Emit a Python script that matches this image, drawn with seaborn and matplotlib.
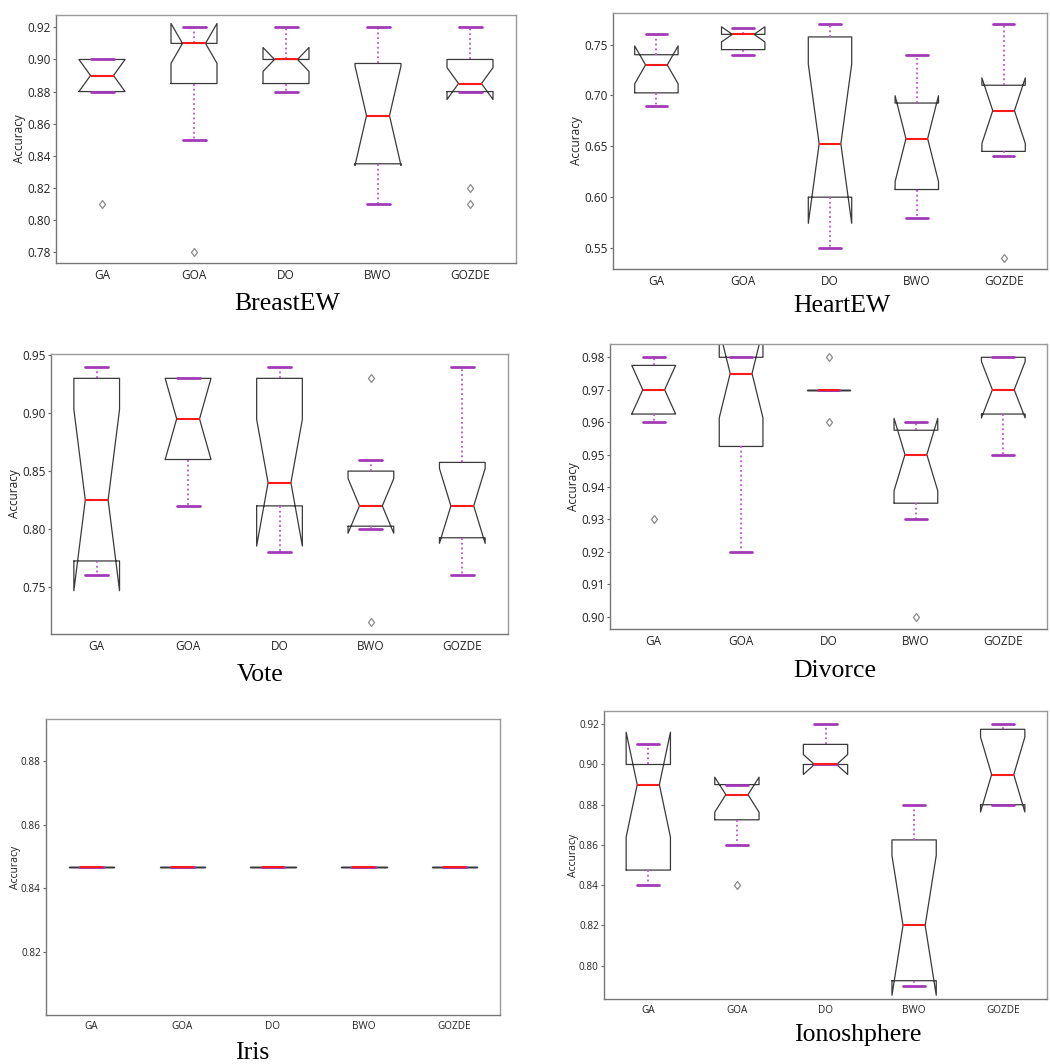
import numpy as np
import pandas as pd
import matplotlib
matplotlib.use("Agg")
import matplotlib.pyplot as plt
from matplotlib.ticker import FormatStrFormatter
import seaborn as sns

# ---------------- data (10 runs per method) ----------------
methods = ["GA", "GOA", "DO", "BWO", "GOZDE"]

breast_ew = {
    "GA":    [0.81, 0.88, 0.88, 0.88, 0.89, 0.89, 0.90, 0.90, 0.90, 0.90],
    "GOA":   [0.78, 0.85, 0.88, 0.90, 0.91, 0.91, 0.91, 0.91, 0.92, 0.92],
    "DO":    [0.88, 0.88, 0.88, 0.90, 0.90, 0.90, 0.90, 0.90, 0.92, 0.92],
    "BWO":   [0.81, 0.82, 0.83, 0.85, 0.86, 0.87, 0.89, 0.90, 0.91, 0.92],
    "GOZDE": [0.81, 0.82, 0.88, 0.88, 0.88, 0.89, 0.90, 0.90, 0.90, 0.92],
}
heart_ew = {
    "GA":    [0.69, 0.70, 0.70, 0.71, 0.73, 0.73, 0.74, 0.74, 0.75, 0.76],
    "GOA":   [0.74, 0.74, 0.74, 0.76, 0.76, 0.76, 0.76, 0.76, 0.76, 0.766],
    "DO":    [0.55, 0.58, 0.60, 0.60, 0.645, 0.66, 0.75, 0.76, 0.77, 0.77],
    "BWO":   [0.58, 0.59, 0.60, 0.63, 0.65, 0.665, 0.67, 0.70, 0.72, 0.74],
    "GOZDE": [0.54, 0.64, 0.64, 0.66, 0.68, 0.69, 0.71, 0.71, 0.74, 0.77],
}
vote = {
    "GA":    [0.76, 0.77, 0.77, 0.78, 0.80, 0.85, 0.93, 0.93, 0.93, 0.94],
    "GOA":   [0.82, 0.84, 0.86, 0.86, 0.88, 0.91, 0.93, 0.93, 0.93, 0.93],
    "DO":    [0.78, 0.80, 0.82, 0.82, 0.84, 0.84, 0.93, 0.93, 0.93, 0.94],
    "BWO":   [0.72, 0.80, 0.80, 0.81, 0.82, 0.82, 0.85, 0.85, 0.86, 0.93],
    "GOZDE": [0.76, 0.78, 0.79, 0.80, 0.82, 0.82, 0.85, 0.86, 0.90, 0.94],
}
divorce = {
    "GA":    [0.93, 0.96, 0.96, 0.97, 0.97, 0.97, 0.97, 0.98, 0.98, 0.98],
    "GOA":   [0.92, 0.94, 0.95, 0.96, 0.97, 0.98, 0.98, 0.98, 0.98, 0.98],
    "DO":    [0.96, 0.97, 0.97, 0.97, 0.97, 0.97, 0.97, 0.97, 0.97, 0.98],
    "BWO":   [0.90, 0.93, 0.93, 0.95, 0.95, 0.95, 0.95, 0.96, 0.96, 0.96],
    "GOZDE": [0.95, 0.96, 0.96, 0.97, 0.97, 0.97, 0.98, 0.98, 0.98, 0.98],
}
iris = {
    "GA":    [0.8467] * 10,
    "GOA":   [0.8467] * 10,
    "DO":    [0.8467] * 10,
    "BWO":   [0.8467] * 10,
    "GOZDE": [0.8467] * 10,
}
ionosphere = {
    "GA":    [0.84, 0.84, 0.84, 0.87, 0.88, 0.90, 0.90, 0.90, 0.90, 0.91],
    "GOA":   [0.84, 0.86, 0.87, 0.88, 0.88, 0.89, 0.89, 0.89, 0.89, 0.89],
    "DO":    [0.90, 0.90, 0.90, 0.90, 0.90, 0.90, 0.91, 0.91, 0.91, 0.92],
    "BWO":   [0.79, 0.79, 0.79, 0.80, 0.81, 0.83, 0.84, 0.87, 0.87, 0.88],
    "GOZDE": [0.88, 0.88, 0.88, 0.88, 0.88, 0.91, 0.91, 0.92, 0.92, 0.92],
}

titles = ["BreastEW", "HeartEW", "Vote", "Divorce", "Iris", "Ionoshphere"]
datasets = [breast_ew, heart_ew, vote, divorce, iris, ionosphere]
yticks_list = [
    [0.78, 0.80, 0.82, 0.84, 0.86, 0.88, 0.90, 0.92],
    [0.55, 0.60, 0.65, 0.70, 0.75],
    [0.75, 0.80, 0.85, 0.90, 0.95],
    [0.90, 0.91, 0.92, 0.93, 0.94, 0.95, 0.96, 0.97, 0.98],
    [0.82, 0.84, 0.86, 0.88],
    [0.80, 0.82, 0.84, 0.86, 0.88, 0.90, 0.92],
]
ylims = [
    (0.7732, 0.9277),
    (0.5294, 0.7810),
    (0.7095, 0.9510),
    (0.8962, 0.9841),
    (0.8000, 0.8934),
    (0.7834, 0.9266),
]

# ---------------- layout (pixels in a 1050 x 1064 canvas) ----------------
W, H = 1050, 1064
# (left, top, right, bottom)
axes_px = [
    (56, 15, 516, 263),
    (613, 13, 1047, 269),
    (51, 354, 508, 634),
    (610, 344, 1047, 629),
    (46, 719, 500, 1015),
    (604, 711, 1047, 999),
]
# (x centre, baseline y)
title_px = [
    (287, 310),
    (842, 312),
    (260, 681),
    (835, 677),
    (252, 1059),
    (858, 1041),
]
# distance (px) from the axes' left edge to the right edge of the "Accuracy" label
ylabel_gap_px = [30, 30, 30, 30, 25, 25]
ylabel_fs = [8.5, 8.5, 8.5, 8.5, 7.5, 7.5]
tick_fs = [8.5, 8.5, 8.5, 8.5, 7.2, 7.2]

sns.set_theme(style="white")
plt.rcParams["font.family"] = ["Open Sans", "DejaVu Sans"]

fig = plt.figure(figsize=(W / 100, H / 100), dpi=100)
fig.patch.set_facecolor("white")

box_col = "#3a3a3a"
cap_col = "#a23ab8"
whisk_col = "#c04fd0"

for data, title, yt, yl, (l, t, r, b), (tx, ty), gap, lfs, tfs in zip(
        datasets, titles, yticks_list, ylims, axes_px, title_px,
        ylabel_gap_px, ylabel_fs, tick_fs):
    ax = fig.add_axes([l / W, 1 - b / H, (r - l) / W, (b - t) / H])
    df = pd.DataFrame(
        [(m, v) for m in methods for v in data[m]], columns=["method", "acc"]
    )
    sns.boxplot(
        data=df, x="method", y="acc", order=methods, ax=ax,
        notch=True, fill=False, width=0.5, whis=1.5,
        boxprops=dict(color=box_col, linewidth=0.9),
        medianprops=dict(color="#ff1a1a", linewidth=1.5),
        whiskerprops=dict(color=whisk_col, linestyle=":", linewidth=1.3),
        capprops=dict(color=cap_col, linewidth=2.0),
        flierprops=dict(marker="d", markersize=4.5, markerfacecolor="none",
                        markeredgecolor="#8a8a8a", markeredgewidth=0.9),
    )
    ax.set_xlim(-0.5, 4.5)
    ax.set_ylim(*yl)
    ax.set_yticks(yt)
    ax.yaxis.set_major_formatter(FormatStrFormatter("%.2f"))
    ax.set_xlabel("")
    ax.set_ylabel("Accuracy", fontsize=lfs, color="#222222")
    ax.yaxis.set_label_coords(-gap / (r - l), 0.5)
    ax.tick_params(axis="y", left=True, length=2.5, width=0.8, color="#666666",
                   labelsize=tfs, labelcolor="#222222", pad=1.2)
    ax.tick_params(axis="x", bottom=False, length=0, labelsize=tfs,
                   labelcolor="#222222", pad=4)
    for s in ax.spines.values():
        s.set_visible(True)
        s.set_color("#9a9a9a")
        s.set_linewidth(1.0)
    ax.spines["left"].set_color("#777777")
    ax.spines["bottom"].set_color("#777777")
    fig.text(tx / W, 1 - ty / H, title, ha="center", va="baseline",
             fontsize=18.5, family=["Liberation Serif", "DejaVu Serif"],
             color="black")

fig.savefig("out.png", dpi=100, facecolor="white")
